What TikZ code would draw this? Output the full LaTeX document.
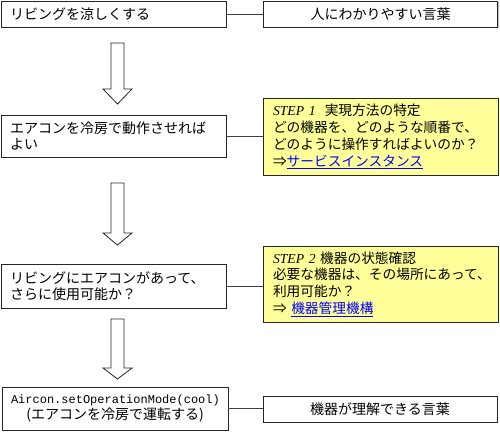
\documentclass[tikz,border=0pt]{standalone}
\usepackage{fontspec}
\setmainfont{Noto Sans CJK JP}
\newfontfamily\stepfont{Liberation Serif}
\newfontfamily\codefont{Liberation Mono}
\usetikzlibrary{shadows}
\definecolor{noteyellow}{RGB}{255,255,153}
\definecolor{linkblue}{RGB}{0,0,255}
\newcommand{\jlink}[1]{\textcolor{linkblue}{\underline{#1}}}
\newcommand{\steplabel}[1]{{\stepfont\itshape STEP #1}}
\tikzset{
  x=1pt, y=1pt,
  base/.style={draw=black!85, line width=0.8pt, inner ysep=0pt, inner xsep=9pt,
    font=\fontsize{14}{16.5}\selectfont,
    general shadow={fill=black!25, shadow xshift=1.2pt, shadow yshift=-1.2pt}},
  leftbox/.style={base, fill=white, minimum width=225pt, text width=207pt, align=left},
  codebox/.style={base, fill=white, minimum width=226pt, text width=208pt, align=center},
  wordbox/.style={base, fill=white, minimum width=234pt, minimum height=26pt, text width=216pt, align=center},
  notebox/.style={base, fill=noteyellow, minimum width=235pt, text width=223pt, inner xsep=6pt, align=left,
    font=\fontsize{13.7}{16.8}\selectfont},
  link/.style={draw=black!75, line width=0.9pt},
  blockarrow/.style={draw=black!85, line width=0.8pt, fill=white}
}
\newcommand{\blockarrow}[3]{% top, headstart, tip (pixel y)
  \draw[blockarrow] (111,-#1) -- (124,-#1) -- (124,-#2) -- (132,-#2) -- (117.5,-#3)
    -- (103,-#2) -- (111,-#2) -- cycle;}
\begin{document}
\begin{tikzpicture}
\useasboundingbox (0,0) rectangle (500,-432);

% left column
\node[leftbox, minimum height=26pt] (b1) at (113.5,-14) {リビングを涼しくする};
\node[leftbox, minimum height=42pt] (b2) at (113.5,-136) {エアコンを冷房で動作させれば\\よい};
\node[leftbox, minimum height=44pt] (b3) at (113.5,-286) {リビングにエアコンがあって、\\さらに使用可能か？};
\node[codebox, minimum height=43pt] (b4) at (115,-408.5)
  {{\codefont\fontsize{12}{16.5}\selectfont Aircon.setOperationMode(cool)}\\(エアコンを冷房で運転する)};

% right column
\node[wordbox, minimum width=233pt] (r1) at (380.5,-14) {人にわかりやすい言葉};
\node[notebox, minimum height=77pt] (s1) at (380.5,-136.5)
  {\hspace*{4pt}\steplabel{1}\ \ 実現方法の特定\\\hspace*{4pt}どの機器を、どのような順番で、\\\hspace*{4pt}どのように操作すればよいのか？\\\hspace*{4pt}⇒\jlink{サービスインスタンス}};
\node[notebox, minimum height=76pt] (s2) at (380.5,-284)
  {\hspace*{4pt}\steplabel{2} 機器の状態確認\\\hspace*{4pt}必要な機器は、その場所にあって、\\\hspace*{4pt}利用可能か？\\\hspace*{4pt}⇒ \jlink{機器管理機構}};
\node[wordbox] (r4) at (380,-409) {機器が理解できる言葉};

% connectors
\draw[link] (b1.east) -- (r1.west);
\draw[link] (b2.east) -- (b2.east -| s1.west);
\draw[link] (b3.east) -- (b3.east -| s2.west);
\draw[link] (b4.east) -- (b4.east -| r4.west);

% block arrows
\blockarrow{43}{89}{104}
\blockarrow{183}{233}{245}
\blockarrow{319}{368}{379}
\end{tikzpicture}
\end{document}
